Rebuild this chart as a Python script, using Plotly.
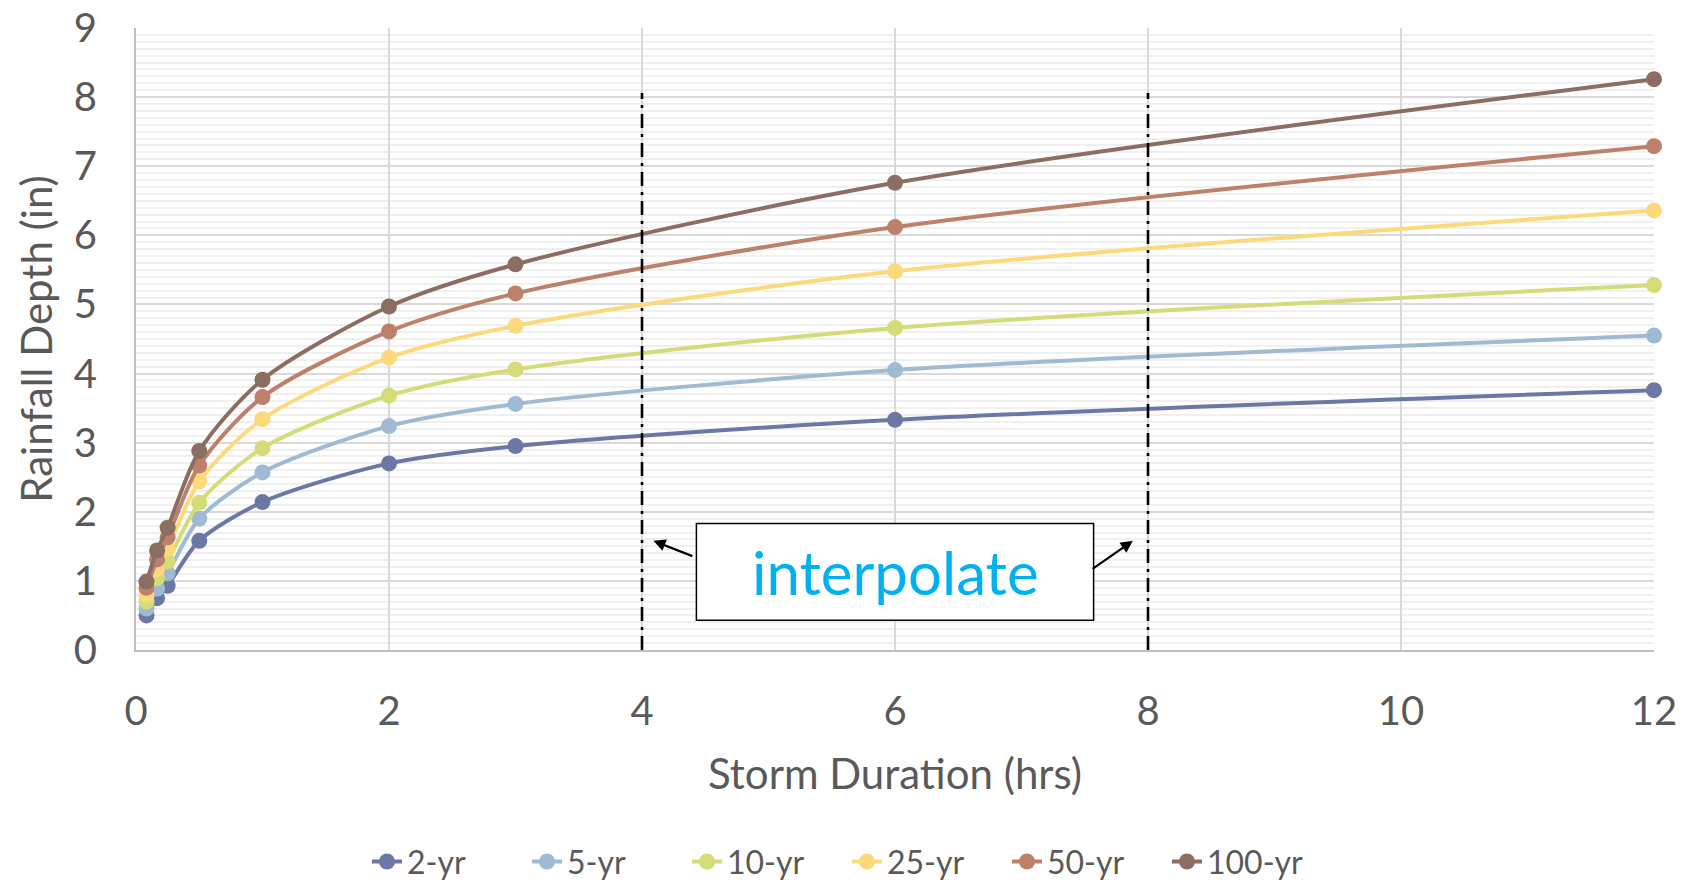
import plotly.graph_objects as go

# Storm durations (hours): 5, 10, 15, 30 min, then 1, 2, 3, 6, 12 hr
durations = [5 / 60, 10 / 60, 15 / 60, 0.5, 1, 2, 3, 6, 12]

# Rainfall depth (in) per return period
depth_2yr = [0.50, 0.75, 0.93, 1.58, 2.14, 2.70, 2.95, 3.33, 3.76]
depth_5yr = [0.60, 0.89, 1.11, 1.90, 2.57, 3.24, 3.56, 4.05, 4.55]
depth_10yr = [0.70, 1.04, 1.28, 2.13, 2.92, 3.68, 4.06, 4.66, 5.28]
depth_25yr = [0.80, 1.17, 1.46, 2.44, 3.34, 4.23, 4.69, 5.48, 6.36]
depth_50yr = [0.90, 1.31, 1.63, 2.67, 3.66, 4.61, 5.16, 6.12, 7.29]
depth_100yr = [0.99, 1.44, 1.77, 2.88, 3.91, 4.97, 5.58, 6.76, 8.26]

series_names = ["2-yr", "5-yr", "10-yr", "25-yr", "50-yr", "100-yr"]
series_values = [depth_2yr, depth_5yr, depth_10yr, depth_25yr, depth_50yr, depth_100yr]
series_colors = ["#6b78a5", "#9fbad3", "#d4dc78", "#fcd97a", "#bd806a", "#8b6d62"]

# Durations bracketing the interpolation region
interp_bounds = [4, 8]

FONT = "Lato, 'Open Sans', sans-serif"
TEXT_GREY = "#595959"

fig = go.Figure()

for name, vals, col in zip(series_names, series_values, series_colors):
    fig.add_trace(go.Scatter(
        x=durations, y=vals, name=name,
        mode="lines+markers",
        line=dict(color=col, width=4, shape="spline", smoothing=0.8),
        marker=dict(color=col, size=16),
        cliponaxis=False,
    ))

# Vertical dash-dot markers at the bracketing durations
for xb in interp_bounds:
    fig.add_shape(type="line", xref="x", yref="y",
                  x0=xb, x1=xb, y0=0, y1=8.06,
                  line=dict(color="black", width=2.6, dash="14px,6px,3px,6px"))

# Label box
fig.add_shape(type="rect", xref="x", yref="y",
              x0=4.43, x1=7.57, y0=0.43, y1=1.83,
              fillcolor="white", line=dict(color="black", width=1.5), layer="above")
fig.add_annotation(x=6.0, y=1.13, xref="x", yref="y", text="interpolate",
                   showarrow=False,
                   font=dict(family=FONT, size=60, color="#00b0f0"))

# Arrows pointing from the box to the bracketing lines
fig.add_annotation(x=4.09, y=1.58, ax=4.41, ay=1.35, xref="x", yref="y",
                   axref="x", ayref="y", text="", showarrow=True,
                   arrowhead=2, arrowsize=1.1, arrowwidth=2.2, arrowcolor="black")
fig.add_annotation(x=7.88, y=1.58, ax=7.55, ay=1.16, xref="x", yref="y",
                   axref="x", ayref="y", text="", showarrow=True,
                   arrowhead=2, arrowsize=1.1, arrowwidth=2.2, arrowcolor="black")

fig.update_layout(
    width=1694, height=882,
    margin=dict(l=136, r=40, t=28, b=232),
    paper_bgcolor="white", plot_bgcolor="white",
    font=dict(family=FONT, color=TEXT_GREY),
    showlegend=True,
    legend=dict(orientation="h", xref="container", yref="container",
                x=0.5, xanchor="center", y=0.023, yanchor="middle",
                font=dict(size=32, color=TEXT_GREY),
                entrywidth=115, entrywidthmode="pixels",
                traceorder="normal"),
    xaxis=dict(
        range=[0, 12], dtick=2, tick0=0,
        showgrid=True, gridcolor="#d9d9d9", gridwidth=2,
        zeroline=False, showline=True, linecolor="#bfbfbf", linewidth=2,
        ticks="", ticklabelstandoff=25, automargin=False,
        tickfont=dict(size=40, color=TEXT_GREY),
        title=dict(text="Storm Duration (hrs)", font=dict(size=42, color=TEXT_GREY), standoff=27),
    ),
    yaxis=dict(
        range=[0, 9], dtick=1, tick0=0,
        showgrid=True, gridcolor="#d9d9d9", gridwidth=2,
        minor=dict(dtick=0.1, showgrid=True, gridcolor="#f0f0f0", gridwidth=2),
        zeroline=False, showline=True, linecolor="#bfbfbf", linewidth=2,
        ticks="", ticklabelstandoff=29, automargin=False,
        tickfont=dict(size=40, color=TEXT_GREY),
        title=dict(text="Rainfall Depth (in)", font=dict(size=42, color=TEXT_GREY), standoff=8),
    ),
)

fig.write_html("out.html")
